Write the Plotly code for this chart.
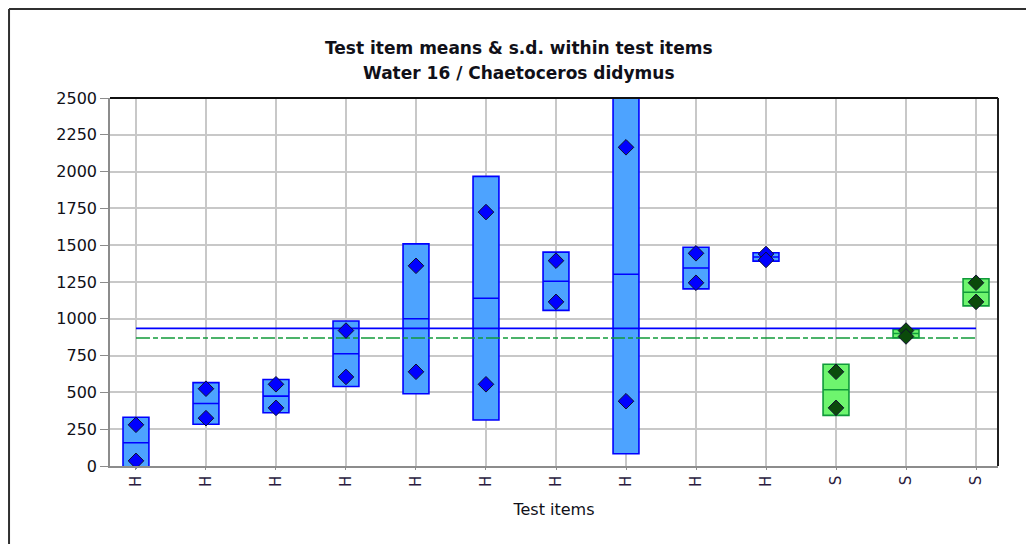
import numpy as np
import plotly.graph_objects as go

# ---- data ----
item_labels = ["H", "H", "H", "H", "H", "H", "H", "H", "H", "H", "S", "S", "S"]
rep_a = [280, 525, 555, 920, 1360, 1725, 1395, 2165, 1445, 1440, 640, 920, 1245]
rep_b = [35, 325, 395, 605, 640, 555, 1115, 440, 1245, 1400, 395, 880, 1115]
overall_mean = 935      # blue solid reference line
overall_median = 870    # green dash-dot reference line
y_ticks = [0, 250, 500, 750, 1000, 1250, 1500, 1750, 2000, 2250, 2500]
title_line1 = "Test item means & s.d. within test items"
title_line2 = "Water 16 / Chaetoceros didymus"

FONT = "DejaVu Sans"
pos = np.arange(len(item_labels))
a = np.array(rep_a, float)
b = np.array(rep_b, float)
mean = (a + b) / 2
sd = np.abs(a - b) / np.sqrt(2)

is_h = np.array([l == "H" for l in item_labels])
is_s = ~is_h

fig = go.Figure()

def add_boxes(mask, fill, edge):
    fig.add_trace(go.Box(
        x=pos[mask], q1=(mean - sd)[mask], median=mean[mask], q3=(mean + sd)[mask],
        lowerfence=(mean - sd)[mask], upperfence=(mean + sd)[mask],
        fillcolor=fill, line=dict(color=edge, width=1.6), width=0.37,
        whiskerwidth=0, boxpoints=False, hoverinfo="skip", showlegend=False))

add_boxes(is_h, "#4DA3FF", "#0000FF")
add_boxes(is_s, "#6EF56E", "#109A3A")

# reference lines
fig.add_trace(go.Scatter(x=[pos[0], pos[-1]], y=[overall_mean] * 2, mode="lines",
                         line=dict(color="#0000FF", width=1.6), showlegend=False, hoverinfo="skip"))
fig.add_trace(go.Scatter(x=[pos[0], pos[-1]], y=[overall_median] * 2, mode="lines",
                         line=dict(color="#109A3A", width=1.6, dash="14px,3px,5px,3px"),
                         showlegend=False, hoverinfo="skip"))

# replicate diamonds
for mask, col in ((is_h, "#0000FF"), (is_s, "#0B4A0B")):
    xs = np.concatenate([pos[mask], pos[mask]])
    ys = np.concatenate([a[mask], b[mask]])
    fig.add_trace(go.Scatter(x=xs, y=ys, mode="markers", cliponaxis=False,
                             marker=dict(symbol="diamond", size=12, color=col,
                                         line=dict(color="#101030", width=1)),
                             showlegend=False, hoverinfo="skip"))

fig.update_layout(
    width=1034, height=544,
    margin=dict(l=102, r=44, t=90, b=86),
    paper_bgcolor="white", plot_bgcolor="white",
    boxmode="overlay",
    font=dict(family=FONT, size=16, color="#101018"),
    xaxis=dict(range=[-0.371, 12.314], tickmode="array", tickvals=pos, ticktext=item_labels,
               tickangle=-90, showgrid=True, gridcolor="#C8C8C8", gridwidth=1.5,
               showline=True, linecolor="#8C8C8C", linewidth=1.5,
               ticks="outside", ticklen=2, tickcolor="#8C8C8C", zeroline=False,
               tickfont=dict(size=15, color="#2a1a40"),
               title=dict(text="Test items", standoff=18, font=dict(size=16))),
    yaxis=dict(range=[0, 2500], tickmode="array", tickvals=y_ticks,
               showgrid=True, gridcolor="#C8C8C8", gridwidth=1.5,
               showline=True, linecolor="#8C8C8C", linewidth=1.5,
               ticks="outside", ticklen=8, tickcolor="#8C8C8C", zeroline=False),
    annotations=[
        dict(text="<b>%s</b>" % title_line1, xref="paper", yref="paper", x=0.4606, y=1.1359,
             xanchor="center", yanchor="middle", showarrow=False, font=dict(size=17)),
        dict(text="<b>%s</b>" % title_line2, xref="paper", yref="paper", x=0.4606, y=1.068,
             xanchor="center", yanchor="middle", showarrow=False, font=dict(size=17)),
    ],
    shapes=[
        # top and right plot border (dark)
        dict(type="line", xref="paper", yref="paper", x0=0, x1=1, y0=1, y1=1,
             line=dict(color="#101010", width=2)),
        dict(type="line", xref="paper", yref="paper", x0=1, x1=1, y0=0, y1=1,
             line=dict(color="#202020", width=2)),
        # outer frame (left and top)
        dict(type="line", xref="paper", yref="paper", x0=-0.1137, x1=1.1, y0=1.2418, y1=1.2418,
             line=dict(color="#303030", width=2)),
        dict(type="line", xref="paper", yref="paper", x0=-0.1137, x1=-0.1137, y0=-0.25, y1=1.2418,
             line=dict(color="#303030", width=2)),
    ],
)

fig.write_html("out.html")
